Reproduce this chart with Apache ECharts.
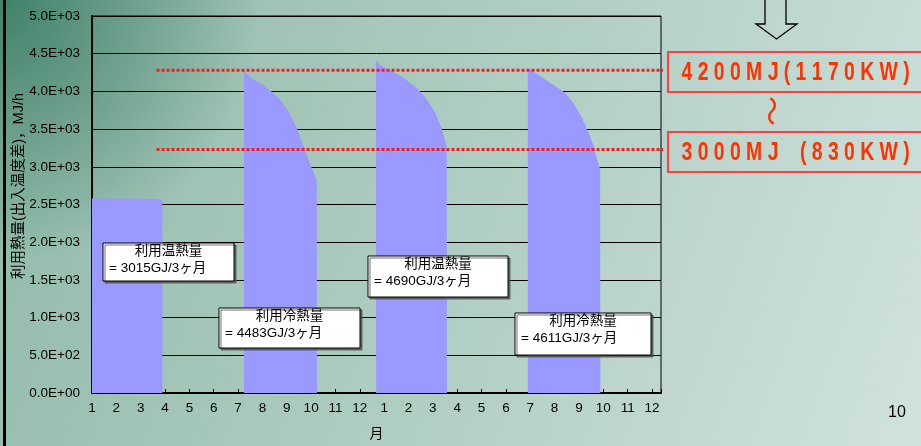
<!DOCTYPE html>
<html>
<head>
<meta charset="utf-8">
<script src="https://cdn.jsdelivr.net/npm/echarts@6/dist/echarts.min.js"></script>
<style>
  html, body { margin: 0; padding: 0; }
  #main {
    width: 921px; height: 446px;
    background:
      radial-gradient(circle at 0 0, rgba(45,115,90,0.8), rgba(45,115,90,0) 260px),
      linear-gradient(110deg, #8fb9a8 0%, #a6c7ba 35%, #b9d3ca 65%, #d0e2de 100%);
  }
</style>
</head>
<body>
<div id="main"></div>
<script>
// ===== data =====
var monthLabels = ['1','2','3','4','5','6','7','8','9','10','11','12',
                   '1','2','3','4','5','6','7','8','9','10','11','12'];

// x = month index (0 = 1月 of first year), y = MJ/h
var heat1X = [0, 0, 2.44, 2.46, 2.89, 2.89];
var heat1Y = [0, 2580, 2575, 2555, 2555, 0];

var cool1X = [6.24, 6.24, 6.62, 7.03, 7.38, 7.72, 8.06, 8.40, 8.68, 8.95, 9.16, 9.23, 9.24];
var cool1Y = [0, 4276, 4158, 4092, 3996, 3895, 3741, 3522, 3280, 3039, 2886, 2820, 0];

var heat2X = [11.67, 11.67, 11.83, 12.17, 12.58, 12.99, 13.40, 13.75, 14.09, 14.37, 14.50, 14.57, 14.58];
var heat2Y = [0, 4408, 4355, 4289, 4224, 4136, 4026, 3895, 3720, 3500, 3346, 3259, 0];

var cool2X = [17.90, 17.90, 18.20, 18.61, 19.02, 19.43, 19.77, 20.12, 20.39, 20.60, 20.78, 20.87, 20.88];
var cool2Y = [0, 4312, 4246, 4158, 4070, 3983, 3851, 3654, 3456, 3280, 3061, 2974, 0];

// red dotted reference lines
var refX = [2.65, 23.67];
var refHigh = 4280;
var refLow = 3230;

var boxTitles = ['利用温熱量', '利用冷熱量', '利用温熱量', '利用冷熱量'];
var boxValues = ['= 3015GJ/3ヶ月', '= 4483GJ/3ヶ月', '= 4690GJ/3ヶ月', '= 4611GJ/3ヶ月'];
var rangeTexts = ['4 2 0 0 M J ( 1 1 7 0 K W )', '3 0 0 0 M J    ( 8 3 0 K W )'];

// ===== layout =====
var boxRects = [[103, 243, 131, 38], [219, 308, 141, 40], [368, 256, 140, 41], [515, 313, 136, 42]];
var FONT = "'Liberation Sans', 'Noto Sans CJK JP', sans-serif";

function zip(xs, ys) {
  return xs.map(function (x, i) { return [x, ys[i]]; });
}

function sci(v) {
  if (v === 0) return '0.0E+00';
  var e = Math.floor(Math.log10(v) + 1e-9);
  var m = v / Math.pow(10, e);
  return m.toFixed(1) + 'E+' + (e < 10 ? '0' : '') + e;
}

function areaSeries(name, xs, ys) {
  return {
    name: name,
    type: 'line',
    data: zip(xs, ys),
    symbol: 'none',
    silent: true,
    lineStyle: { width: 0 },
    itemStyle: { color: '#9999ff' },
    areaStyle: { color: '#9999ff', opacity: 1 },
    z: 2
  };
}

function refSeries(y) {
  return {
    type: 'line',
    data: zip(refX, [y, y]),
    symbol: 'none',
    silent: true,
    clip: false,
    lineStyle: { color: '#ff1a1a', width: 3, type: [3, 2] },
    z: 5
  };
}

// annotation boxes (each child carries its own z so it sits above the areas)
var graphics = [];
boxRects.forEach(function (r, i) {
  graphics.push({
    type: 'rect', z: 100,
    shape: { x: r[0], y: r[1], width: r[2], height: r[3] },
    style: { fill: '#fff', stroke: '#000', lineWidth: 1,
             shadowColor: 'rgba(80,80,80,0.8)', shadowOffsetX: 2, shadowOffsetY: 2, shadowBlur: 0 }
  });
  graphics.push({
    type: 'text', x: r[0] + r[2] / 2, y: r[1] + 8.5, z: 101,
    style: { text: boxTitles[i], font: '13.5px ' + FONT, fill: '#000', align: 'center', verticalAlign: 'middle' }
  });
  graphics.push({
    type: 'text', x: r[0] + 6, y: r[1] + 25, z: 101,
    style: { text: boxValues[i], font: '13.5px ' + FONT, fill: '#000', align: 'left', verticalAlign: 'middle' }
  });
});

// right-side range boxes
[[52, 72.5], [132, 153]].forEach(function (p, i) {
  graphics.push({
    type: 'rect', shape: { x: 668, y: p[0], width: 270, height: 40 },
    style: { fill: 'none', stroke: '#ff4040', lineWidth: 2 }, z: 100
  });
  graphics.push({
    type: 'text', x: 681.5, y: p[1], scaleX: 0.745, z: 101,
    style: { text: rangeTexts[i], font: 'bold 26px ' + FONT, fill: '#ff3300', align: 'left', verticalAlign: 'middle' }
  });
});
graphics.push({
  type: 'text', x: 775, y: 111, rotation: Math.PI / 2, z: 101,
  style: { text: '〜', font: '30px ' + FONT, fill: '#ff3300', align: 'center', verticalAlign: 'middle' }
});

// outline arrow
graphics.push({
  type: 'polygon', z: 100,
  shape: { points: [[765, -3], [786, -3], [786, 24], [797, 24], [776.5, 39], [756, 24], [765, 24]] },
  style: { fill: 'none', stroke: '#000', lineWidth: 1.3 }
});

// y axis title
graphics.push({
  type: 'text', x: 18.5, y: 186, rotation: Math.PI / 2, z: 100,
  style: { text: '利用熱量(出入温度差)，MJ/h', font: '14.5px ' + FONT, fill: '#000', align: 'center', verticalAlign: 'middle' }
});

// page number
graphics.push({
  type: 'text', x: 897, y: 413, z: 100,
  style: { text: '10', font: '16px ' + FONT, fill: '#000', align: 'center', verticalAlign: 'middle' }
});

// left slide edge
graphics.push({
  type: 'rect', shape: { x: 3, y: 0, width: 3, height: 446 },
  style: { fill: '#000' }, z: 100
});

var myChart = echarts.init(document.getElementById('main'), null, { renderer: 'canvas' });

var option = {
  backgroundColor: 'transparent',
  animation: false,
  textStyle: { fontFamily: FONT },
  grid: {
    left: 92, right: 260, top: 16, bottom: 50,
    show: true, borderColor: '#000', borderWidth: 1, backgroundColor: 'transparent'
  },
  xAxis: {
    type: 'value',
    min: 0,
    max: 23.37,
    interval: 1,
    name: '月',
    nameLocation: 'middle',
    nameGap: 34,
    nameTextStyle: { color: '#000', fontSize: 14, fontFamily: FONT },
    axisLine: { lineStyle: { color: '#000', width: 2 } },
    axisTick: { inside: true, length: 4, lineStyle: { color: '#000' } },
    splitLine: { show: false },
    axisLabel: {
      color: '#000', fontSize: 13.5, fontFamily: FONT, margin: 9,
      formatter: function (v) {
        var k = Math.round(v);
        return Math.abs(v - k) < 1e-6 && monthLabels[k] ? monthLabels[k] : '';
      }
    }
  },
  yAxis: {
    type: 'value',
    min: 0,
    max: 5000,
    interval: 500,
    axisLine: { show: true, lineStyle: { color: '#000', width: 2 } },
    axisTick: { show: false },
    splitLine: { lineStyle: { color: '#000', width: 1 } },
    axisLabel: { color: '#000', fontSize: 13.5, fontFamily: FONT, margin: 12, formatter: sci }
  },
  series: [
    areaSeries('heat1', heat1X, heat1Y),
    areaSeries('cool1', cool1X, cool1Y),
    areaSeries('heat2', heat2X, heat2Y),
    areaSeries('cool2', cool2X, cool2Y),
    refSeries(refHigh),
    refSeries(refLow)
  ],
  graphic: graphics
};

myChart.setOption(option);
</script>
</body>
</html>
